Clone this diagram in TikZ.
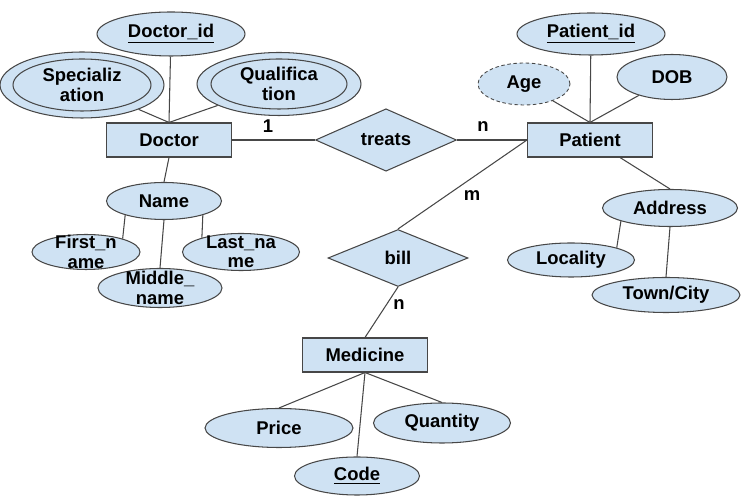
\documentclass[tikz,border=0pt]{standalone}
\usepackage{fontspec}
\setmainfont{Liberation Sans}
\usetikzlibrary{shapes.geometric}

\definecolor{erblue}{HTML}{CFE2F3}
\definecolor{erline}{HTML}{474747}

\begin{document}
\begin{tikzpicture}[x=0.02cm, y=-0.02cm,
        every node/.style={font=\bfseries\fontsize{10.5}{11}\selectfont, inner sep=0pt},
        entity/.style={rectangle, draw=erline, fill=erblue, line width=0.6pt, minimum width=2.5cm, minimum height=0.68cm},
        attr/.style={ellipse, draw=erline, fill=erblue, line width=0.6pt},
        innerattr/.style={ellipse, draw=erline, line width=0.6pt},
        rel/.style={diamond, draw=erline, fill=erblue, line width=0.6pt},
        conn/.style={draw=erline, line width=0.6pt}]
            \useasboundingbox (0,0) rectangle (741,499);

            % doctor side
            \node[attr, minimum width=2.96cm, minimum height=0.88cm] (docid) at (171,34) {\underline{Doctor\_id}};
            \node[attr, minimum width=3.28cm, minimum height=1.32cm] (spec) at (82,85) {};
            \node[innerattr, minimum width=2.76cm, minimum height=1.04cm, label={[align=center]center:Specializ\\ation}] (specin) at (spec) {};
            \node[attr, minimum width=3.28cm, minimum height=1.26cm] (qual) at (279,84) {};
            \node[innerattr, minimum width=2.72cm, minimum height=1.0cm, label={[align=center]center:Qualifica\\tion}] (qualin) at (qual) {};
            \node[entity] (doctor) at (169,140) {Doctor};
            \node[attr, minimum width=2.3cm, minimum height=0.74cm] (name) at (164,201) {Name};
            \node[attr, minimum width=2.16cm, minimum height=0.7cm, label={[align=center]center:First\_n\\ame}] (first) at (86,252) {};
            \node[attr, minimum width=2.34cm, minimum height=0.74cm, label={[align=center]center:Last\_na\\me}] (last) at (241,252) {};
            \node[attr, minimum width=2.48cm, minimum height=0.78cm, label={[align=center]center:Middle\_\\name}] (middle) at (160,288) {};

            % relationships
            \node[rel, minimum width=2.82cm, minimum height=1.1cm] (treats) at (386,140) {treats};
            \node[rel, minimum width=2.8cm, minimum height=1.14cm] (bill) at (398,258) {bill};

            % patient side
            \node[entity] (patient) at (590,140) {Patient};
            \node[attr, minimum width=2.96cm, minimum height=0.84cm] (patid) at (591,34) {\underline{Patient\_id}};
            \node[attr, dash pattern=on 2pt off 1.5pt, line width=0.5pt, minimum width=1.84cm, minimum height=0.84cm] (age) at (524,84) {Age};
            \node[attr, minimum width=2.2cm, minimum height=0.9cm] (dob) at (672,77) {DOB};
            \node[attr, minimum width=2.7cm, minimum height=0.74cm] (address) at (670,208) {Address};
            \node[attr, minimum width=2.54cm, minimum height=0.68cm] (locality) at (571,260) {Locality};
            \node[attr, minimum width=2.96cm, minimum height=0.7cm] (town) at (666,295) {Town/City};

            % medicine
            \node[entity] (medicine) at (365,355) {Medicine};
            \node[attr, minimum width=2.96cm, minimum height=0.78cm] (price) at (279,428) {Price};
            \node[attr, minimum width=2.74cm, minimum height=0.8cm] (quantity) at (442,423) {Quantity};
            \node[attr, minimum width=2.5cm, minimum height=0.76cm] (code) at (357,476) {\underline{Code}};

            % cardinalities
            \node (card1) at (268,126) {1};
            \node (cardn) at (483,127) {n};
            \node (cardm) at (472,196) {m};
            \node (cardn2) at (399,305) {n};

            \foreach \a in {docid, spec, qual} {
                \draw[conn] (\a) -- (doctor.north);
            }
            \foreach \a in {age, patid, dob} {
                \draw[conn] (\a) -- (patient.north);
            }
            \foreach \a in {price, code, quantity} {
                \draw[conn] (medicine.south) -- (\a.north);
            }
            \draw[conn] (doctor.south) -- (name.north);
            \draw[conn] (name.200) -- (first.20);
            \draw[conn] (name.south) -- (middle.north);
            \draw[conn] (name.340) -- (last.160);
            \draw[conn] (doctor.east) -- (treats.west);
            \draw[conn] (treats.east) -- (patient.west);
            \draw[conn] (bill.north) -- (patient.west);
            \draw[conn] (bill.south) -- (medicine.north);
            \draw[conn] ([xshift=0.6cm]patient.south) -- (address.north);
            \draw[conn] (address.195) -- (locality.15);
            \draw[conn] (address.south) -- (town.north);
        \end{tikzpicture}
\end{document}
